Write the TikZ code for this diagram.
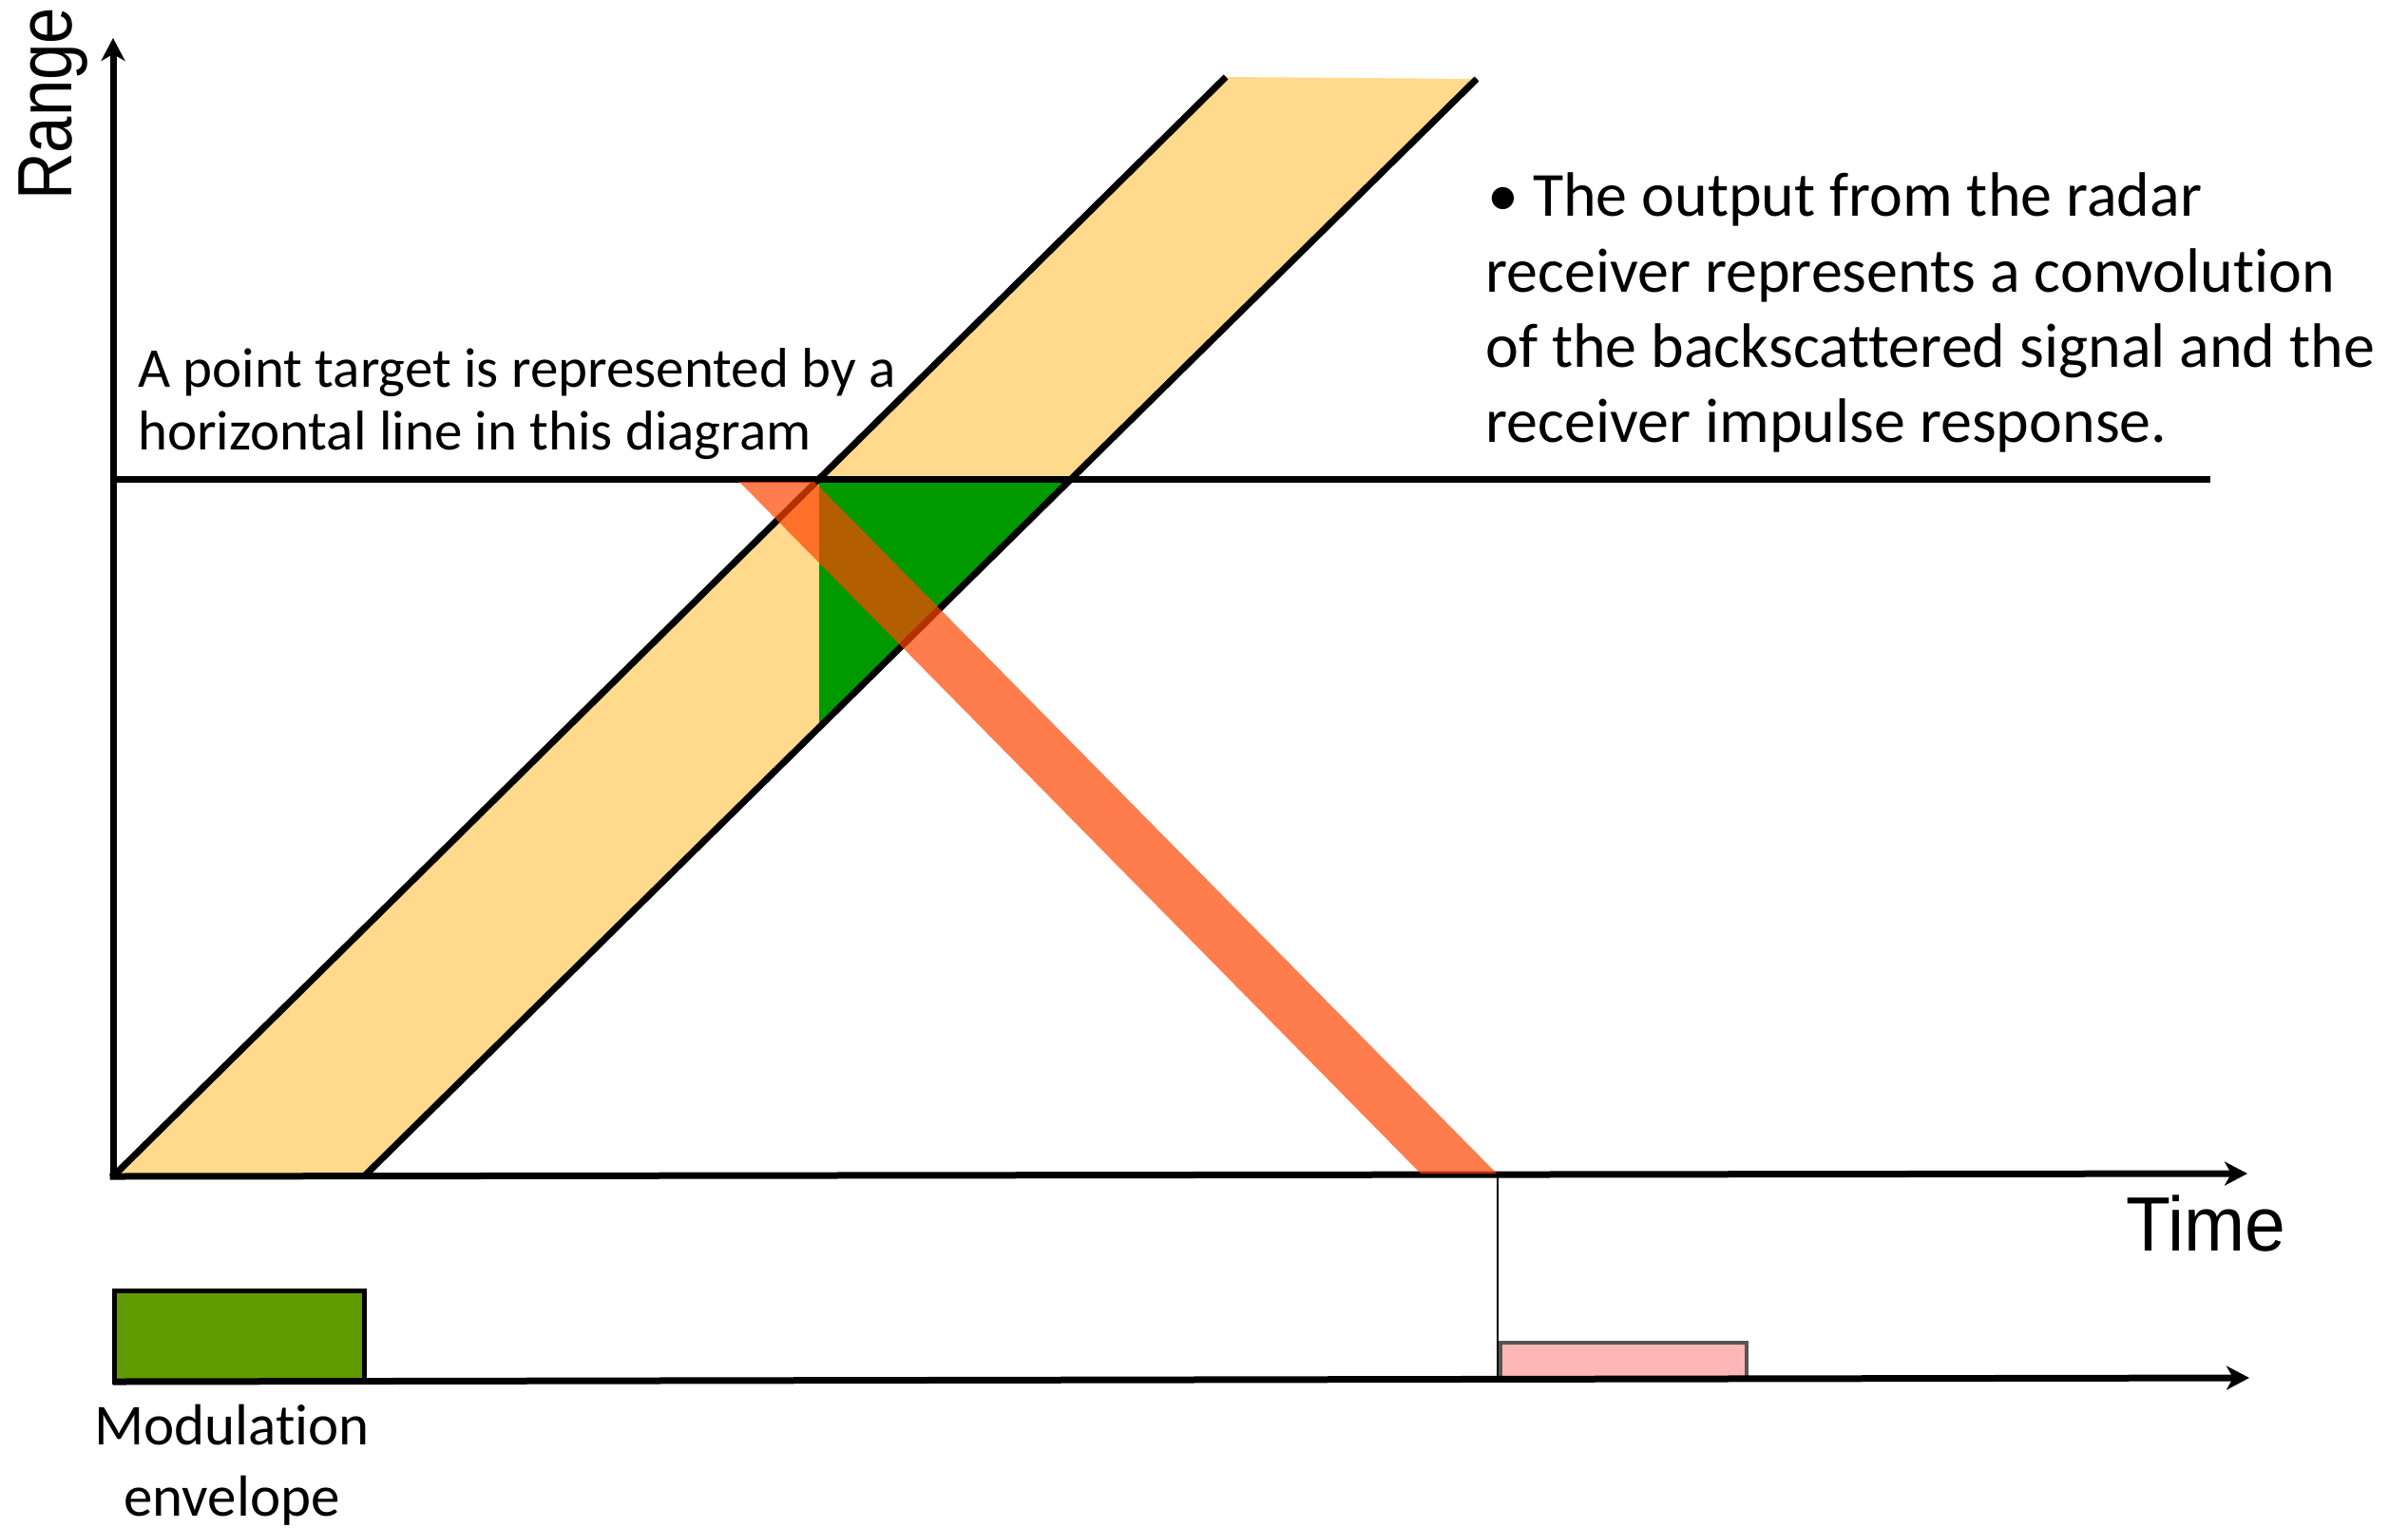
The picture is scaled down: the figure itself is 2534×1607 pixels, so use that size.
\documentclass[tikz,border=0pt]{standalone}
\usepackage{fontspec}
\setmainfont[Ligatures=NoCommon]{Carlito}
\newfontfamily\axisfont{Liberation Sans}
\usetikzlibrary{arrows.meta}
\definecolor{bandyellow}{RGB}{255,218,140}
\definecolor{trigreen}{RGB}{0,153,0}
\definecolor{pulsered}{RGB}{255,69,0}
\definecolor{envgreen}{RGB}{95,156,0}
\definecolor{pinkfill}{RGB}{255,182,182}
\definecolor{pinkedge}{RGB}{85,85,85}
\tikzset{
  axisline/.style={line width=7pt, -{Stealth[length=24pt, width=25pt, inset=7pt]}},
  heavyline/.style={line width=7pt},
  thinline/.style={line width=2.5pt},
  labeltext/.style={inner sep=0pt, font=\fontsize{59}{68}\selectfont},
  bullettext/.style={inner sep=0pt, anchor=base west, font=\fontsize{66}{79}\selectfont},
  envtext/.style={inner sep=0pt, anchor=base, font=\fontsize{61}{73}\selectfont},
  axistext/.style={inner sep=0pt, font=\axisfont\fontsize{81}{90}\selectfont},
}
\begin{document}
\begin{tikzpicture}[x=1pt, y=-1pt]
\useasboundingbox (0,0) rectangle (2534,1607);
% key points
\coordinate (O) at (119,1238);
\coordinate (Ytop) at (119,40);
\coordinate (Tend) at (2365,1235);
\coordinate (B1) at (383,1238);
\coordinate (A1) at (1290,81);
\coordinate (A2) at (1554,83);
\coordinate (Tl) at (119,504);
\coordinate (Tr) at (2326,504);
\coordinate (G1) at (862,504);
\coordinate (G2) at (862,766);
\coordinate (G3) at (1127,504);
\coordinate (R1) at (778,507);
\coordinate (R2) at (857,507);
\coordinate (R3) at (1575,1235);
\coordinate (R4) at (1495,1235);
\coordinate (V1) at (1576,1238);
\coordinate (V2) at (1576,1451);
\coordinate (L0) at (119,1454);
\coordinate (L1) at (2367,1450);
% transmitted band
\fill[bandyellow] (O) -- (B1) -- (A2) -- (A1) -- cycle;
% overlap triangle
\fill[trigreen] (G1) -- (G2) -- (G3) -- cycle;
% lines
\draw[heavyline] (O) -- (A1);
\draw[heavyline] (B1) -- (A2);
\draw[heavyline] (Tl) -- (Tr);
\draw[axisline, line cap=butt] ([yshift=3.5pt]O) -- (Ytop);
\draw[axisline] ([xshift=-3.5pt]O) -- (Tend);
% return band
\fill[pulsered, fill opacity=0.7] (R1) -- (R2) -- (R3) -- (R4) -- cycle;
% lower time line
\draw[thinline] (V1) -- (V2);
\draw[line width=5pt, fill=envgreen] (120,1358) rectangle (383,1454);
\draw[line width=4pt, draw=pinkedge, fill=pinkfill] (1579,1413) rectangle (1838,1451);
\draw[axisline] (L0) -- (L1);
% texts
\node[axistext, rotate=90, anchor=base west] (range) at (75,211) {\scalebox{0.85}[1]{Range}};
\node[axistext, anchor=base west] (time) at (2237,1316) {\scalebox{0.95}[1]{Time}};
\node[labeltext, anchor=base west] (pt1) at (145,407) {A point target is represented by a};
\node[labeltext, anchor=base west] (pt2) at (145,473) {horizontal line in this diagram};
\node[bullettext] (b1) at (1565,227) {• The output from the radar};
\node[bullettext] (b2) at (1563,307) {receiver represents a convolution};
\node[bullettext] (b3) at (1563,386) {of the backscattered signal and the};
\node[bullettext] (b4) at (1563,465) {receiver impulse response.};
\node[envtext] (m1) at (244,1520) {Modulation};
\node[envtext] (m2) at (244,1595) {envelope};
\end{tikzpicture}
\end{document}
